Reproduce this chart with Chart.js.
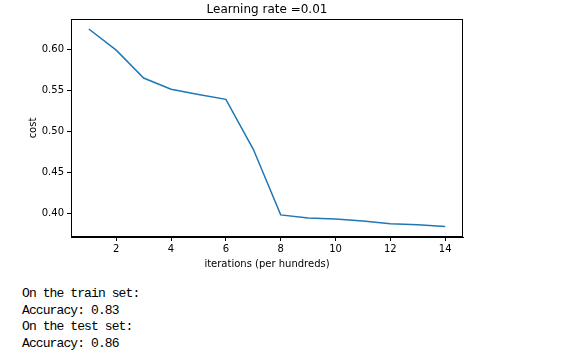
<!DOCTYPE html>
<html>
<head>
<meta charset="utf-8">
<script src="https://cdn.jsdelivr.net/npm/chart.js@4/dist/chart.umd.min.js"></script>
<style>
  html, body { margin: 0; padding: 0; background: #fff; }
  #wrap { position: relative; width: 569px; height: 361px; overflow: hidden; }
  #chartBox { position: absolute; left: 0; top: 0; width: 569px; height: 280px; }
  #out { position: absolute; left: 22px; top: 286px; margin: 0;
         font-family: "Liberation Mono", "DejaVu Sans Mono", monospace;
         font-size: 13px; line-height: 16.7px; letter-spacing: -0.9px; color: #000; white-space: pre; }
</style>
</head>
<body>
<div id="wrap">
  <div id="chartBox"><canvas id="c"></canvas></div>
<pre id="out">On the train set:
Accuracy: 0.83
On the test set:
Accuracy: 0.86</pre>
</div>
<script>
const iterations = [1, 2, 3, 4, 5, 6, 7, 8, 9, 10, 11, 12, 13, 14];
const costs = [0.6248, 0.599, 0.565, 0.5512, 0.545, 0.539, 0.478, 0.398, 0.3943, 0.393, 0.3906, 0.3873, 0.386, 0.3838];
const xTicks = [2, 4, 6, 8, 10, 12, 14];
const yTicks = [0.40, 0.45, 0.50, 0.55, 0.60];
const titleText = 'Learning rate =0.01';
const xLabel = 'iterations (per hundreds)';
const yLabel = 'cost';

const framePlugin = {
  id: 'frame',
  afterDraw(chart) {
    const {ctx, chartArea: a} = chart;
    ctx.save();
    ctx.strokeStyle = '#000';
    ctx.lineWidth = 1;
    ctx.strokeRect(Math.round(a.left) + 0.5, Math.round(a.top) + 0.5,
                   Math.round(a.right - a.left) - 1, Math.round(a.bottom - a.top) - 1);
    ctx.fillStyle = '#000';
    ctx.font = '12px "DejaVu Sans"';
    ctx.textAlign = 'center';
    ctx.textBaseline = 'middle';
    ctx.fillText(titleText, (a.left + a.right) / 2, 10);
    ctx.restore();
  }
};

new Chart(document.getElementById('c'), {
  type: 'line',
  data: {
    datasets: [{
      data: iterations.map((x, i) => ({x: x, y: costs[i]})),
      borderColor: '#1f77b4',
      borderWidth: 1.5,
      pointRadius: 0,
      tension: 0,
      fill: false
    }]
  },
  options: {
    responsive: true,
    maintainAspectRatio: false,
    animation: false,
    layout: { padding: { left: 27, right: 106, top: 19, bottom: 10 } },
    plugins: { legend: { display: false }, tooltip: { enabled: false } },
    scales: {
      x: {
        type: 'linear',
        min: 0.35, max: 14.65,
        afterBuildTicks(s) { s.ticks = xTicks.map(v => ({value: v})); },
        afterFit(s) { s.height = 33; },
        grid: { drawOnChartArea: false, drawTicks: true, tickLength: 4, color: '#000' },
        border: { display: true, color: '#000', width: 1 },
        ticks: { color: '#000', padding: 2, maxRotation: 0,
                 font: { family: 'DejaVu Sans', size: 10 },
                 callback: v => String(v) },
        title: { display: true, text: xLabel, color: '#000',
                 font: { family: 'DejaVu Sans', size: 10 }, padding: 0 }
      },
      y: {
        min: 0.371, max: 0.637,
        afterBuildTicks(s) { s.ticks = yTicks.map(v => ({value: v})); },
        afterFit(s) { s.width = 44; },
        grid: { drawOnChartArea: false, drawTicks: true, tickLength: 4, color: '#000' },
        border: { display: true, color: '#000', width: 1 },
        ticks: { color: '#000', padding: 3,
                 font: { family: 'DejaVu Sans', size: 10 },
                 callback: v => v.toFixed(2) },
        title: { display: true, text: yLabel, color: '#000',
                 font: { family: 'DejaVu Sans', size: 10 }, padding: 0 }
      }
    }
  },
  plugins: [framePlugin]
});
</script>
</body>
</html>
